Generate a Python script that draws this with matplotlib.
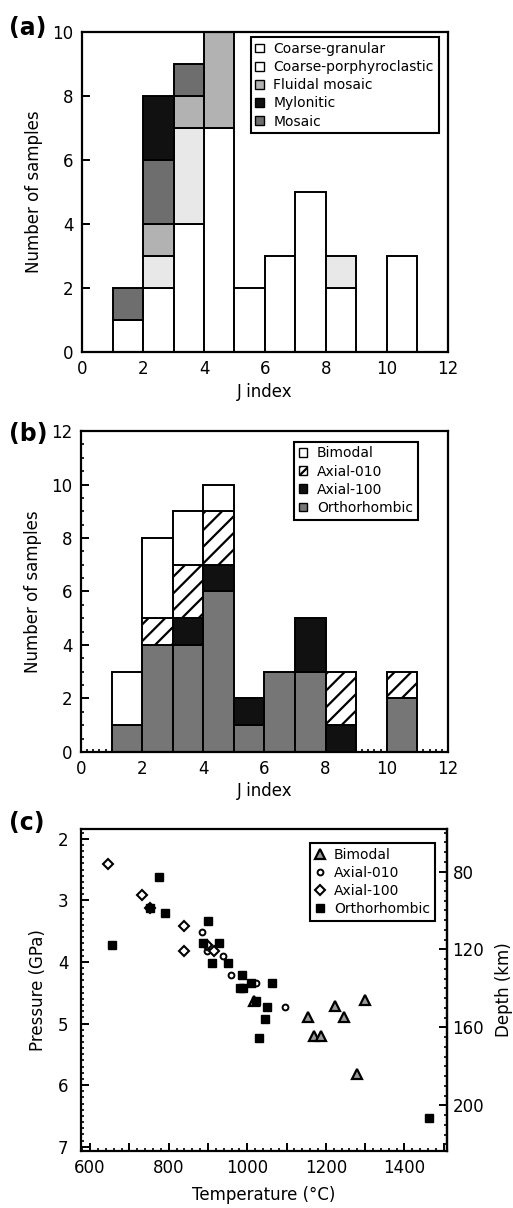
import matplotlib.pyplot as plt
from matplotlib.patches import Patch
from matplotlib.ticker import MultipleLocator, FuncFormatter

plt.rcParams.update({
    "font.family": "DejaVu Sans",
    "font.size": 12,
    "axes.linewidth": 1.6,
    "hatch.linewidth": 1.6,
})

# ---- data ----
# J index bins (left edges, width 1)
j_left = [1, 2, 3, 4, 5, 6, 7, 8, 9, 10]

# (a) microstructure, stacked bottom -> top
coarse_granular = [1, 2, 4, 7, 2, 3, 5, 2, 0, 3]
coarse_porph = [0, 1, 3, 0, 0, 0, 0, 1, 0, 0]
fluidal_mosaic = [0, 1, 1, 3, 0, 0, 0, 0, 0, 0]
mosaic = [1, 2, 1, 0, 0, 0, 0, 0, 0, 0]
mylonitic = [0, 2, 0, 0, 0, 0, 0, 0, 0, 0]

# (b) fabric type, stacked bottom -> top
orthorhombic = [1, 4, 4, 6, 1, 3, 3, 0, 0, 2]
axial_100 = [0, 0, 1, 1, 1, 0, 2, 1, 0, 0]
axial_010 = [0, 1, 2, 2, 0, 0, 0, 2, 0, 1]
bimodal = [2, 3, 2, 1, 0, 0, 0, 0, 0, 0]

# (c) P-T of samples
bimodal_T = [1018, 1155, 1170, 1188, 1224, 1246, 1300, 1280]
bimodal_P = [4.63, 4.90, 5.21, 5.21, 4.71, 4.90, 4.61, 5.82]
ax010_T = [885, 898, 938, 959, 1022, 1096]
ax010_P = [3.52, 3.83, 3.91, 4.22, 4.34, 4.73]
ax100_T = [645, 731, 753, 839, 839, 898, 916]
ax100_P = [2.41, 2.92, 3.12, 3.41, 3.83, 3.72, 3.83]
ortho_T = [657, 776, 790, 753, 900, 888, 928, 910, 951, 987, 982, 988,
           1010, 1063, 1023, 1050, 1045, 1030, 1463]
ortho_P = [3.72, 2.62, 3.21, 3.12, 3.33, 3.70, 3.70, 4.01, 4.01, 4.22, 4.42, 4.42,
           4.34, 4.34, 4.63, 4.73, 4.92, 5.23, 6.54]

KM_PER_GPA = 31.6

fig = plt.figure(figsize=(5.13, 12.08), dpi=100)
ax_a = fig.add_axes([0.160, 0.7086, 0.713, 0.2650])
ax_b = fig.add_axes([0.158, 0.3775, 0.715, 0.2657])
ax_c = fig.add_axes([0.158, 0.0472, 0.713, 0.2666])


def stacked(ax, layers):
    bottom = [0] * len(j_left)
    for heights, color, hatch in layers:
        for x, h, b in zip(j_left, heights, bottom):
            if h:
                ax.bar(x, h, width=1, bottom=b, align='edge', color=color,
                       edgecolor='black', linewidth=1.4, hatch=hatch, zorder=2)
        bottom = [b + h for b, h in zip(bottom, heights)]


def square_legend(ax, entries, anchor):
    handles = [Patch(facecolor=c, edgecolor='black', linewidth=1.0, hatch=h)
               for _, c, h in entries]
    leg = ax.legend(handles, [e[0] for e in entries], loc='upper right',
                    bbox_to_anchor=anchor, fontsize=10, fancybox=False,
                    edgecolor='black', framealpha=1, handlelength=0.6,
                    handleheight=0.6, handletextpad=0.7, labelspacing=0.3,
                    borderpad=0.35, borderaxespad=0)
    leg.get_frame().set_linewidth(1.5)


# ---- (a) ----
c_gran, c_porph, c_flu, c_myl, c_mos = 'white', '#e8e8e8', '#b2b2b2', '#111111', '#6e6e6e'
stacked(ax_a, [(coarse_granular, c_gran, None), (coarse_porph, c_porph, None),
               (fluidal_mosaic, c_flu, None), (mosaic, c_mos, None),
               (mylonitic, c_myl, None)])
ax_a.set_xlim(0, 12)
ax_a.set_ylim(0, 10)
ax_a.xaxis.set_major_locator(MultipleLocator(2))
ax_a.yaxis.set_major_locator(MultipleLocator(2))
ax_a.set_xlabel('J index', labelpad=3)
ax_a.set_ylabel('Number of samples', labelpad=7)
square_legend(ax_a, [('Coarse-granular', c_gran, None),
                     ('Coarse-porphyroclastic', 'white', None),
                     ('Fluidal mosaic', c_flu, None),
                     ('Mylonitic', c_myl, None),
                     ('Mosaic', c_mos, None)], (0.975, 0.984))

# ---- (b) ----
c_ortho = '#767676'
stacked(ax_b, [(orthorhombic, c_ortho, None), (axial_100, '#111111', None),
               (axial_010, 'white', '//'), (bimodal, 'white', None)])
ax_b.set_xlim(0, 12)
ax_b.set_ylim(0, 12)
ax_b.xaxis.set_major_locator(MultipleLocator(2))
ax_b.xaxis.set_minor_locator(MultipleLocator(0.2))
ax_b.yaxis.set_major_locator(MultipleLocator(2))
ax_b.yaxis.set_minor_locator(MultipleLocator(0.5))
ax_b.set_xlabel('J index', labelpad=3)
ax_b.set_ylabel('Number of samples', labelpad=7)
square_legend(ax_b, [('Bimodal', 'white', None), ('Axial-010', 'white', '////'),
                     ('Axial-100', '#111111', None),
                     ('Orthorhombic', c_ortho, None)], (0.918, 0.967))

for ax in (ax_a, ax_b):
    ax.set_axisbelow(True)
    ax.tick_params(which='major', direction='in', length=6, width=1.4,
                   labelsize=12, pad=6)
    ax.tick_params(which='minor', direction='in', length=2.5, width=1.2)
    ax.tick_params(axis='y', which='both', left=True, right=False)
    ax.tick_params(axis='x', which='both', bottom=True, top=False)

# ---- (c) ----
ax_c.plot(bimodal_T, bimodal_P, '^', ms=6.5, mfc='#9a9a9a', mec='black', mew=1.6,
          ls='none', label='Bimodal')
ax_c.plot(ax010_T, ax010_P, 'o', ms=4.2, mfc='white', mec='black', mew=1.4,
          ls='none', label='Axial-010')
ax_c.plot(ax100_T, ax100_P, 'D', ms=4.8, mfc='white', mec='black', mew=1.5,
          ls='none', label='Axial-100')
ax_c.plot(ortho_T, ortho_P, 's', ms=5.2, mfc='black', mec='black', mew=1,
          ls='none', label='Orthorhombic')
ax_c.set_xlim(577, 1508)
ax_c.set_ylim(7.07, 1.84)
ax_c.xaxis.set_major_locator(MultipleLocator(100))
ax_c.xaxis.set_major_formatter(FuncFormatter(lambda v, p: f'{v:.0f}' if round(v) % 200 == 0 else ''))
ax_c.xaxis.set_minor_locator(MultipleLocator(20))
ax_c.yaxis.set_major_locator(MultipleLocator(1))
ax_c.yaxis.set_minor_locator(MultipleLocator(0.1))
ax_c.tick_params(which='major', direction='in', length=6, width=1.4,
                 labelsize=12, pad=6)
ax_c.tick_params(axis='y', which='major', pad=9)
ax_c.tick_params(which='minor', direction='in', length=2.5, width=1.2)
ax_c.set_xlabel('Temperature (°C)', labelpad=6)
ax_c.set_ylabel('Pressure (GPa)', labelpad=8)

depth = ax_c.secondary_yaxis('right', functions=(lambda p: p * KM_PER_GPA,
                                                 lambda d: d / KM_PER_GPA))
depth.yaxis.set_major_locator(MultipleLocator(40))
depth.yaxis.set_minor_locator(MultipleLocator(5))
depth.tick_params(which='major', direction='in', length=6, width=1.4,
                  labelsize=12, pad=4)
depth.tick_params(which='minor', direction='in', length=2.5, width=1.2)
depth.set_ylabel('Depth (km)', labelpad=8)

leg = ax_c.legend(loc='upper right', bbox_to_anchor=(0.967, 0.957), fontsize=10,
                  fancybox=False, edgecolor='black', framealpha=1,
                  handlelength=0.8, handletextpad=0.6, labelspacing=0.3,
                  borderpad=0.35, borderaxespad=0)
leg.get_frame().set_linewidth(1.5)

# panel letters
fig.text(0.018, 0.977, '(a)', fontsize=17, fontweight='bold', va='center')
fig.text(0.018, 0.641, '(b)', fontsize=17, fontweight='bold', va='center')
fig.text(0.018, 0.319, '(c)', fontsize=17, fontweight='bold', va='center')

fig.savefig('out.png', dpi=100)
